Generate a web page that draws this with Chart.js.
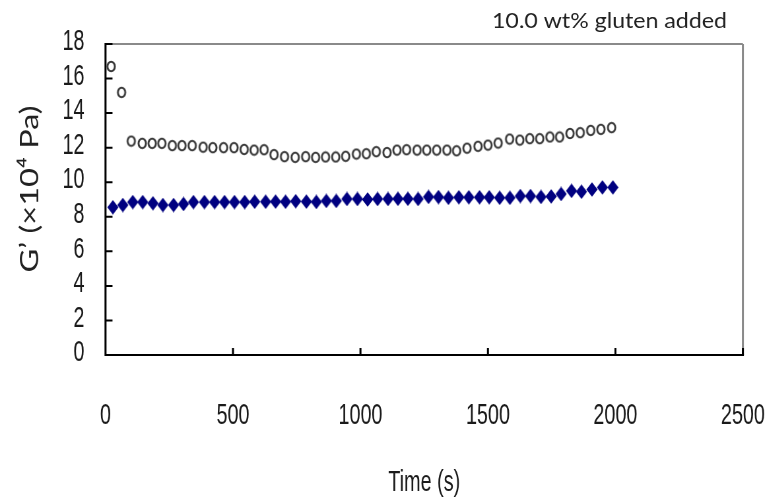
<!DOCTYPE html>
<html>
<head>
<meta charset="utf-8">
<script src="https://cdn.jsdelivr.net/npm/chart.js@4/dist/chart.umd.min.js"></script>
<style>
  html, body { margin: 0; padding: 0; background: #fff; width: 771px; height: 504px; overflow: hidden; }
  /* the chart is laid out on a wider canvas and narrowed horizontally,
     which gives the tall, condensed lettering of the figure */
  #wrap { width: 1168px; height: 504px; transform: scaleX(0.66); transform-origin: 0 0; }
  #c { display: block; }
</style>
</head>
<body>
<div id="wrap"><canvas id="c" width="1168" height="504"></canvas></div>
<script>
// Storage modulus G' (x10^4 Pa) over time, 10.0 wt% gluten added
const xTicks = [0, 500, 1000, 1500, 2000, 2500];
const yTicks = [0, 2, 4, 6, 8, 10, 12, 14, 16, 18];

// open circles
const circleTime = [22, 63, 101, 144, 183, 221, 262, 300, 340, 383,
  421, 463, 504, 544, 583, 622, 661, 702, 744, 785,
  824, 863, 903, 942, 984, 1023, 1062, 1104, 1143, 1181,
  1222, 1260, 1299, 1339, 1377, 1418, 1461, 1500, 1540, 1585,
  1625, 1664, 1703, 1743, 1781, 1822, 1862, 1903, 1943, 1985];
const circleG = [16.7, 15.2, 12.38, 12.25, 12.25, 12.25, 12.12, 12.12, 12.12, 12.03,
  12.0, 12.0, 12.0, 11.9, 11.86, 11.88, 11.6, 11.48, 11.44, 11.48,
  11.44, 11.46, 11.46, 11.5, 11.63, 11.65, 11.77, 11.72, 11.86, 11.88,
  11.86, 11.86, 11.86, 11.86, 11.82, 11.97, 12.08, 12.15, 12.27, 12.5,
  12.44, 12.52, 12.52, 12.62, 12.62, 12.82, 12.87, 13.0, 13.06, 13.16];

// filled diamonds
const diamondTime = [29, 68, 107, 146, 186, 225, 267, 306, 345, 388,
  428, 467, 506, 546, 585, 628, 667, 706, 746, 788,
  827, 866, 905, 947, 988, 1028, 1067, 1108, 1147, 1186,
  1226, 1267, 1306, 1345, 1386, 1425, 1467, 1505, 1546, 1586,
  1627, 1667, 1708, 1748, 1787, 1828, 1867, 1908, 1949, 1990];
const diamondG = [8.55, 8.68, 8.85, 8.85, 8.78, 8.68, 8.68, 8.74, 8.85, 8.85,
  8.85, 8.85, 8.85, 8.85, 8.87, 8.87, 8.88, 8.87, 8.9, 8.88,
  8.86, 8.92, 8.92, 9.03, 9.03, 9.0, 9.03, 9.03, 9.04, 9.04,
  9.03, 9.15, 9.14, 9.1, 9.13, 9.13, 9.13, 9.13, 9.1, 9.1,
  9.2, 9.2, 9.15, 9.18, 9.32, 9.5, 9.45, 9.58, 9.7, 9.7];

const chartTitle = '10.0 wt% gluten added';
const xTitle = 'Time (s)';
const yTitle = 'G\u2019 (\u00d710\u2074 Pa)';

// horizontal squeeze applied to the canvas by CSS
const SQ = 0.66;
const W = v => v / SQ;   // on-screen width -> canvas width

const tickFont = "'Liberation Sans', Arimo, Arial, sans-serif";
const lightFont = "Lato, 'Open Sans', 'DejaVu Sans', sans-serif";

// marker glyphs, pre-widened so that they come out at their true shape
function ringMarker() {
  const c = document.createElement('canvas');
  c.width = Math.ceil(W(11)); c.height = 13;
  const g = c.getContext('2d');
  g.setTransform(1 / SQ, 0, 0, 1, c.width / 2, c.height / 2);
  g.strokeStyle = '#383838';
  g.lineWidth = 1.9;
  g.beginPath();
  g.ellipse(0, 0, 3.7, 4.8, 0, 0, Math.PI * 2);
  g.stroke();
  return c;
}
function diamondMarker() {
  const c = document.createElement('canvas');
  c.width = Math.ceil(W(11.5)); c.height = 15;
  const g = c.getContext('2d');
  g.setTransform(1 / SQ, 0, 0, 1, c.width / 2, c.height / 2);
  g.fillStyle = '#000080';
  g.beginPath();
  g.moveTo(0, -7.2); g.lineTo(5.6, 0); g.lineTo(0, 7.2); g.lineTo(-5.6, 0);
  g.closePath();
  g.fill();
  return c;
}

const toPoints = (xs, ys) => xs.map((t, i) => ({ x: t, y: ys[i] }));

// frame, inward tick marks, rotated axis title and corner caption
const framePlugin = {
  id: 'frame',
  beforeDatasetsDraw(chart) {
    const { ctx, chartArea: a, scales: { x, y } } = chart;
    ctx.save();
    ctx.lineCap = 'butt';
    // grey top and right edges
    ctx.strokeStyle = '#8a8a8a';
    ctx.lineWidth = 2;
    ctx.beginPath();
    ctx.moveTo(a.left, a.top);
    ctx.lineTo(a.right, a.top);
    ctx.stroke();
    ctx.lineWidth = W(2);
    ctx.beginPath();
    ctx.moveTo(a.right, a.top);
    ctx.lineTo(a.right, a.bottom);
    ctx.stroke();

    // black axes with ticks pointing into the plot
    ctx.strokeStyle = '#000';
    ctx.lineWidth = W(2);
    ctx.beginPath();
    ctx.moveTo(a.left, a.top - 1);
    ctx.lineTo(a.left, a.bottom + 1);
    xTicks.forEach(v => {
      const px = x.getPixelForValue(v);
      ctx.moveTo(px, a.bottom);
      ctx.lineTo(px, a.bottom - 7);
    });
    ctx.stroke();
    ctx.lineWidth = 2;
    ctx.beginPath();
    ctx.moveTo(a.left, a.bottom);
    ctx.lineTo(a.right + W(1), a.bottom);
    yTicks.forEach(v => {
      const py = y.getPixelForValue(v);
      ctx.moveTo(a.left, py);
      ctx.lineTo(a.left + W(7), py);
    });
    ctx.stroke();
    ctx.restore();
  },
  afterDraw(chart) {
    const { ctx } = chart;
    ctx.save();
    ctx.fillStyle = '#222';

    // y axis title, set to its on-screen length
    ctx.save();
    ctx.font = "26px " + lightFont;
    const yLen = ctx.measureText(yTitle).width;
    ctx.translate(W(30), 189);
    ctx.scale(1 / SQ, 1);
    ctx.rotate(-Math.PI / 2);
    ctx.scale(167 / yLen, 1);
    ctx.textAlign = 'center';
    ctx.textBaseline = 'middle';
    ctx.fillText(yTitle, 0, 0);
    ctx.restore();

    // caption in the top-right corner
    ctx.save();
    ctx.font = "21px " + lightFont;
    const cLen = ctx.measureText(chartTitle).width;
    ctx.translate(W(727), 28);
    ctx.scale((235 / cLen) / SQ, 1);
    ctx.textAlign = 'right';
    ctx.textBaseline = 'alphabetic';
    ctx.fillText(chartTitle, 0, 0);
    ctx.restore();

    ctx.restore();
  }
};

new Chart(document.getElementById('c'), {
  type: 'scatter',
  data: {
    datasets: [
      {
        label: 'open',
        data: toPoints(circleTime, circleG),
        pointStyle: ringMarker(),
        showLine: false
      },
      {
        label: 'filled',
        data: toPoints(diamondTime, diamondG),
        pointStyle: diamondMarker(),
        showLine: false
      }
    ]
  },
  options: {
    responsive: false,
    animation: false,
    events: [],
    devicePixelRatio: 1,
    layout: { padding: { top: 44, right: W(28), left: 0, bottom: 0 } },
    plugins: {
      legend: { display: false },
      tooltip: { enabled: false },
      title: { display: false }
    },
    scales: {
      x: {
        type: 'linear',
        min: 0,
        max: 2500,
        afterBuildTicks: s => { s.ticks = xTicks.map(v => ({ value: v })); },
        afterFit: s => { s.height = 149; s.paddingLeft = 0; s.paddingRight = 0; },
        grid: { display: false, drawTicks: false },
        border: { display: false },
        ticks: {
          padding: 43,
          maxRotation: 0,
          autoSkip: false,
          color: '#1a1a1a',
          font: { family: tickFont, size: 30 },
          callback: v => String(v)
        },
        title: {
          display: true,
          text: xTitle,
          color: '#1a1a1a',
          font: { family: tickFont, size: 30 },
          padding: { top: 0, bottom: 3 }
        }
      },
      y: {
        type: 'linear',
        min: 0,
        max: 18,
        afterBuildTicks: s => { s.ticks = yTicks.map(v => ({ value: v })); },
        afterFit: s => { s.width = W(105.5); s.paddingTop = 0; s.paddingBottom = 0; },
        grid: { display: false, drawTicks: false },
        border: { display: false },
        ticks: {
          padding: W(21),
          labelOffset: -2,
          autoSkip: false,
          color: '#1a1a1a',
          font: { family: tickFont, size: 30 },
          callback: v => String(v)
        },
        title: { display: false }
      }
    }
  },
  plugins: [framePlugin]
});
</script>
</body>
</html>
